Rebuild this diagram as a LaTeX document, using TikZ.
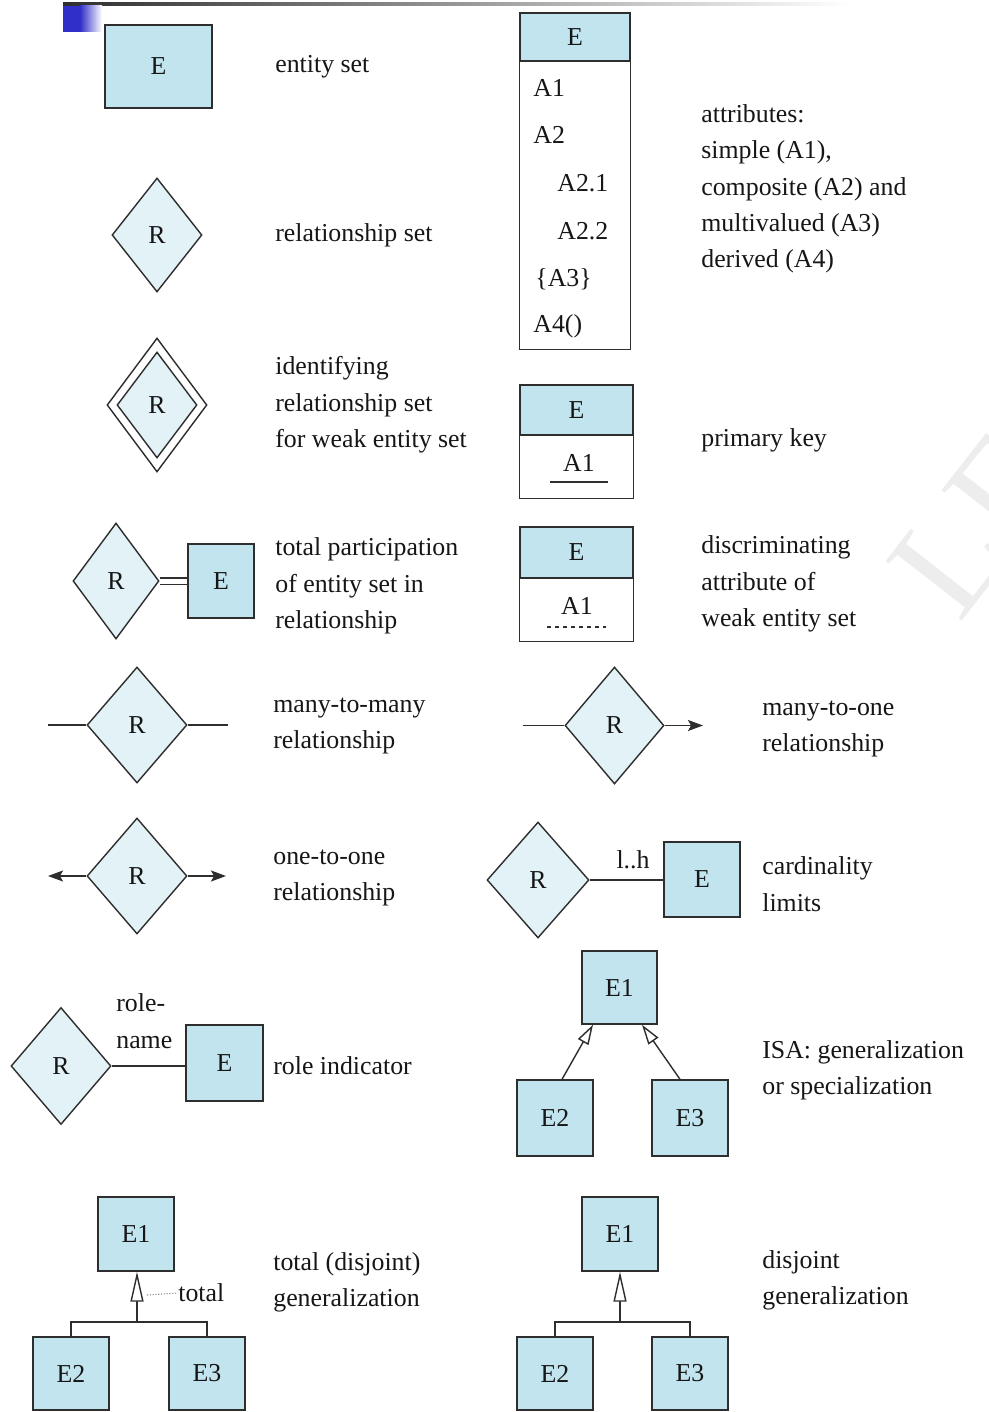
\documentclass[tikz,border=0pt]{standalone}
\usepackage{fontspec}
\setmainfont{Liberation Serif}
\usetikzlibrary{shapes.geometric,arrows.meta}
\definecolor{entfill}{HTML}{C2E4EF}
\definecolor{relfill}{HTML}{E3F2F7}
\definecolor{ln}{HTML}{2E2E2E}
\definecolor{txt}{HTML}{161616}
\definecolor{deco}{HTML}{3030C8}
\begin{document}
\begin{tikzpicture}[x=0.02cm,y=-0.02cm,
  font=\fontsize{14.7}{20.7}\selectfont,
  ent/.style={draw=ln, line width=0.8pt, fill=entfill, inner sep=0pt, text=txt},
  rel/.style={diamond, draw=ln, line width=0.8pt, fill=relfill, inner sep=0pt, text=txt},
  lab/.style={anchor=west, align=left, inner sep=0pt, text=txt},
  conn/.style={draw=ln, line width=0.8pt},
  isatip/.style={-{Triangle[open,length=4mm,width=2.4mm,fill=white]}},
  gentip/.style={-{Triangle[open,length=6mm,width=2.6mm,fill=white]}},
  onetip/.style={-{Stealth[length=3mm,width=2.2mm,inset=0.6mm]}}]
\useasboundingbox (0,0) rectangle (989,1412);
\fill[white] (0,0) rectangle (989,1412);
% watermark
\begin{scope}
\clip (0,0) rectangle (989,1412);
\node[text=black!7, rotate=52, inner sep=0pt, font=\fontsize{84}{84}\selectfont] (wm) at (1005,488) {LFC};
\end{scope}
% top decoration
\shade[left color=ln, right color=white] (63,3) rectangle (850,6);
\fill[deco] (63,6) rectangle (80,32);
\shade[left color=deco, right color=white] (80,6) rectangle (102,32);

% ---------- left column ----------
\node[ent, minimum width=2.14cm, minimum height=1.66cm] (es) at (158.5,66.5) {E};
\node[lab] (les) at (275,67) {entity set};

\node[rel, minimum width=1.8cm, minimum height=2.28cm] (rs) at (157,235) {R};
\node[lab] (lrs) at (275,235) {relationship set};

\node[diamond, draw=ln, line width=0.8pt, fill=white, minimum width=2.0cm, minimum height=2.68cm, inner sep=0pt] (idout) at (157,405) {};
\node[rel, minimum width=1.6cm, minimum height=2.12cm] (idin) at (157,405) {R};
\node[lab] (lid) at (275,405) {identifying\\relationship set\\for weak entity set};

\node[rel, minimum width=1.72cm, minimum height=2.32cm] (tpr) at (116,581) {R};
\node[ent, minimum width=1.32cm, minimum height=1.48cm] (tpe) at (221,581) {E};
\draw[conn, double=white, double distance=1mm] (tpr.east) -- (tpe.west);
\node[lab] (ltp) at (275,586) {total participation\\of entity set in\\relationship};

\node[rel, minimum width=2.0cm, minimum height=2.32cm] (mmr) at (137,725) {R};
\coordinate (mma) at (48,725);
\coordinate (mmb) at (228,725);
\draw[conn] (mma) -- (mmr.west);
\draw[conn] (mmr.east) -- (mmb);
\node[lab] (lmm) at (273,726) {many-to-many\\relationship};

\node[rel, minimum width=2.0cm, minimum height=2.32cm] (oor) at (137,876) {R};
\coordinate (ooa) at (48,876);
\coordinate (oob) at (226,876);
\draw[conn, onetip] (oor.west) -- (ooa);
\draw[conn, onetip] (oor.east) -- (oob);
\node[lab] (loo) at (273,878) {one-to-one\\relationship};

\node[rel, minimum width=2.0cm, minimum height=2.34cm] (ror) at (61,1066) {R};
\node[ent, minimum width=1.54cm, minimum height=1.52cm] (roe) at (224.5,1063) {E};
\draw[conn] (ror.east) -- (roe.west |- ror.east);
\node[lab] (lrn) at (116,1021) {role-\\name};
\node[lab] (lro) at (273,1066) {role indicator};

% total generalization
\node[ent, minimum width=1.52cm, minimum height=1.48cm] (tg1) at (136,1234) {E1};
\node[ent, minimum width=1.52cm, minimum height=1.46cm] (tg2) at (71,1373.5) {E2};
\node[ent, minimum width=1.52cm, minimum height=1.46cm] (tg3) at (207,1373.5) {E3};
\coordinate (tgj) at (137,1322);
\draw[conn, gentip] (tgj) -- (tg1.south -| tgj);
\draw[conn] (tg2.north) |- (tgj) -| (tg3.north);
\coordinate (tgd) at (147,1295);
\node[lab] (tgt) at (178,1293) {total};
\draw[gray, line width=0.6pt, densely dotted] (tgd) -- (tgt.west);
\node[lab] (ltg) at (273,1282) {total (disjoint)\\generalization};

% ---------- right column ----------
% attributes
\node[ent, minimum width=2.2cm, minimum height=0.96cm] (ath) at (575,37) {E};
\draw[conn] (ath.south west) -- ++(0,288) -| (ath.south east);
\node[lab] (a1) at (533,88) {A1};
\node[lab] (a2) at (533,135) {A2};
\node[lab] (a21) at (557,183) {A2.1};
\node[lab] (a22) at (557,231) {A2.2};
\node[lab] (a3) at (535,279) {\{A3\}};
\node[lab] (a4) at (533,326) {A4()};
\node[lab] (lat) at (701,189) {attributes:\\simple (A1),\\composite (A2) and\\multivalued (A3)\\derived (A4)};

% primary key
\node[ent, minimum width=2.26cm, minimum height=1.0cm] (pkh) at (576.5,410) {E};
\draw[conn] (pkh.south west) -- ++(0,63) -| (pkh.south east);
\node[text=txt, inner sep=0pt] (pka) at (579,463) {A1};
\draw[ln, line width=0.8pt] (550,482) -- (608,482);
\node[lab] (lpk) at (701,440) {primary key};

% discriminator
\node[ent, minimum width=2.26cm, minimum height=1.02cm] (dah) at (576.5,552.5) {E};
\draw[conn] (dah.south west) -- ++(0,63) -| (dah.south east);
\node[text=txt, inner sep=0pt] (daa) at (577,606) {A1};
\draw[ln, line width=0.8pt, dash pattern=on 0.8mm off 0.8mm] (547,627) -- (606,627);
\node[lab] (lda) at (701,584) {discriminating\\attribute of\\weak entity set};

% many-to-one
\node[rel, minimum width=1.98cm, minimum height=2.34cm] (mor) at (614.5,725.5) {R};
\coordinate (moa) at (523,725.5);
\coordinate (mob) at (703,725.5);
\draw[conn] (moa) -- (mor.west);
\draw[conn, onetip] (mor.east) -- (mob);
\node[lab] (lmo) at (762,729) {many-to-one\\relationship};

% cardinality
\node[rel, minimum width=2.04cm, minimum height=2.32cm] (car) at (538,880) {R};
\node[ent, minimum width=1.52cm, minimum height=1.5cm] (cae) at (702,879.5) {E};
\draw[conn] (car.east) -- (cae.west |- car.east);
\node[text=txt, inner sep=0pt] (cal) at (633,860) {l..h};
\node[lab] (lca) at (762,884) {cardinality\\limits};

% ISA
\node[ent, minimum width=1.5cm, minimum height=1.46cm] (is1) at (619.5,987.5) {E1};
\node[ent, minimum width=1.52cm, minimum height=1.52cm] (is2) at (555,1118) {E2};
\node[ent, minimum width=1.52cm, minimum height=1.52cm] (is3) at (690,1118) {E3};
\draw[conn, isatip] ([xshift=0.14cm]is2.north) -- ([xshift=-0.53cm]is1.south);
\draw[conn, isatip] ([xshift=-0.2cm]is3.north) -- ([xshift=0.45cm]is1.south);
\node[lab] (lis) at (762,1070) {ISA: generalization\\or specialization};

% disjoint generalization
\node[ent, minimum width=1.52cm, minimum height=1.48cm] (dg1) at (620,1234) {E1};
\node[ent, minimum width=1.52cm, minimum height=1.46cm] (dg2) at (555,1373.5) {E2};
\node[ent, minimum width=1.52cm, minimum height=1.46cm] (dg3) at (690,1373.5) {E3};
\coordinate (dgj) at (620,1322);
\draw[conn, gentip] (dgj) -- (dg1.south -| dgj);
\draw[conn] (dg2.north) |- (dgj) -| (dg3.north);
\node[lab] (ldg) at (762,1280) {disjoint\\generalization};
\end{tikzpicture}
\end{document}
